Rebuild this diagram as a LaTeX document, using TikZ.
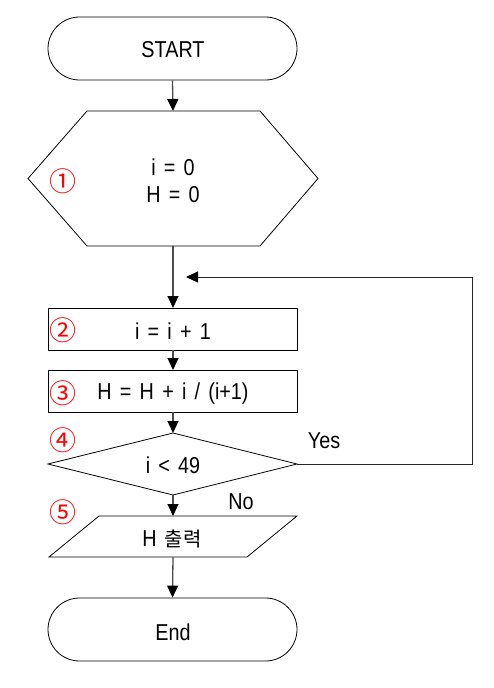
\documentclass[tikz,border=0pt]{standalone}
\usepackage{fontspec}
\setmainfont{Liberation Sans}[FakeStretch=0.86,WordSpace=1.5]
\newfontfamily\kr{Noto Sans CJK KR}
\usetikzlibrary{arrows.meta,shapes.misc}
\begin{document}
\begin{tikzpicture}[x=1pt,y=-1pt,
  shp/.style={draw=black,line width=0.8pt},
  term/.style={shp,rounded rectangle,minimum width=249pt,minimum height=63pt,inner sep=0pt},
  lbl/.style={font=\fontsize{23}{27}\selectfont,inner sep=0pt,align=center},
  num/.style={font=\kr\fontsize{27}{30}\selectfont,text=red,inner sep=0pt},
  conn/.style={draw=black!70,line width=1.3pt,-{Triangle[length=12pt,width=11pt,color=black]}},
  loopc/.style={draw=black!85,line width=1pt,-{Triangle[length=12pt,width=11pt,color=black]}}]
\useasboundingbox[fill=white] (0,0) rectangle (494,688);
% START
\node[term,lbl] (start) at (172.5,48.5) {};
\node[lbl] (starttext) at (173,50) {START};
% hexagon
\draw[shp] (87,111) -- (260,111) -- (318,178.5) -- (260,246) -- (87,246) -- (28,178.5) -- cycle;
\coordinate (hextop) at (173,111);
\coordinate (hexbot) at (173,246);
\node[lbl] (init) at (173,181) {i = 0\\H = 0};
\node[num] (n1) at (63,181) {①};
% box 2
\draw[shp] (48,308) rectangle (297,350);
\node[lbl] (inc) at (173,331) {i = i + 1};
\node[num] (n2) at (63,330) {②};
\coordinate (b2top) at (173,308);
\coordinate (b2bot) at (173,350);
% box 3
\draw[shp] (48,370) rectangle (297,412);
\node[lbl] (sum) at (173,394) {H = H + i / (i+1)};
\node[num] (n3) at (63,393) {③};
\coordinate (b3top) at (173,370);
\coordinate (b3bot) at (173,412);
% diamond
\draw[shp] (173,433) -- (297,464) -- (173,495) -- (48,464) -- cycle;
\coordinate (dtop) at (173,433);
\coordinate (dbot) at (173,495);
\coordinate (dright) at (297,464);
\node[lbl] (cond) at (173,465) {i < 49};
\node[num] (n4) at (63,440) {④};
\node[lbl] (yes) at (324,441) {Yes};
\node[lbl] (no) at (241,502) {No};
% parallelogram
\draw[shp] (99,516) -- (297,516) -- (247,557) -- (49,557) -- cycle;
\coordinate (ptop) at (173,516);
\coordinate (pbot) at (173,557);
\node[lbl] (out) at (172,539) {H {\kr\fontsize{20}{27}\selectfont 출력}};
\node[num] (n5) at (63,512) {⑤};
% End
\node[term] (end) at (172.5,629.5) {};
\node[lbl] (endtext) at (173,632) {End};
% connectors
\draw[conn] (start.south) -- (hextop);
\draw[conn] (hexbot) -- (b2top);
\draw[conn] (b2bot) -- (b3top);
\draw[conn] (b3bot) -- (dtop);
\draw[conn] (dbot) -- (ptop);
\draw[conn] (pbot) -- (end.north);
\coordinate (lp1) at (472,464);
\coordinate (lp2) at (472,277);
\coordinate (lpend) at (186,277);
\draw[loopc] (dright) -- (lp1) -- (lp2) -- (lpend);
\end{tikzpicture}
\end{document}
